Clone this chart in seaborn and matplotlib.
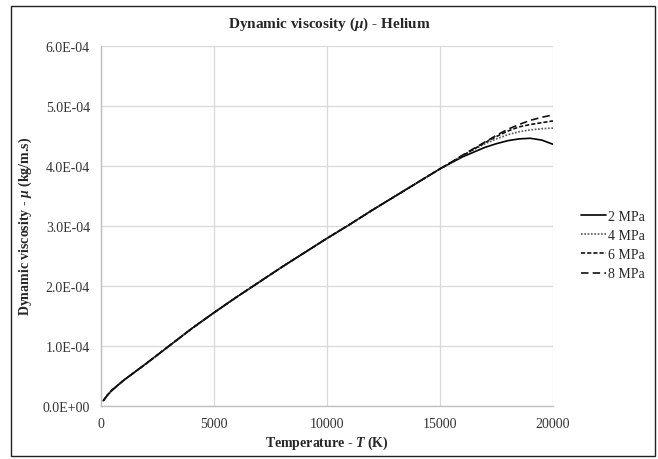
import matplotlib
matplotlib.use("Agg")
import matplotlib.pyplot as plt
import matplotlib.patches as mpatches
import numpy as np
import pandas as pd
import seaborn as sns

# ---- data ----
temps_common = [100, 300, 500, 1000, 1500, 2000, 3000, 4000, 5000, 6000, 7000, 8000,
                9000, 10000, 11000, 12000, 13000, 14000, 15000]
mu_common = [0.08e-4, 0.18e-4, 0.26e-4, 0.42e-4, 0.56e-4, 0.70e-4, 0.99e-4,
             1.28e-4, 1.55e-4, 1.81e-4, 2.06e-4, 2.31e-4, 2.55e-4, 2.79e-4,
             3.02e-4, 3.26e-4, 3.49e-4, 3.72e-4, 3.95e-4]
temps_high = [15500, 16000, 16500, 17000, 17500, 18000, 18500, 19000, 19500, 20000]
mu_2mpa = [4.05e-4, 4.15e-4, 4.23e-4, 4.31e-4, 4.37e-4, 4.42e-4, 4.45e-4, 4.46e-4, 4.43e-4, 4.36e-4]
mu_4mpa = [4.06e-4, 4.17e-4, 4.27e-4, 4.37e-4, 4.45e-4, 4.52e-4, 4.57e-4, 4.60e-4, 4.62e-4, 4.63e-4]
mu_6mpa = [4.06e-4, 4.17e-4, 4.28e-4, 4.39e-4, 4.49e-4, 4.58e-4, 4.65e-4, 4.69e-4, 4.72e-4, 4.75e-4]
mu_8mpa = [4.06e-4, 4.18e-4, 4.29e-4, 4.40e-4, 4.51e-4, 4.61e-4, 4.69e-4, 4.76e-4, 4.81e-4, 4.85e-4]
pressures = ["2 MPa", "4 MPa", "6 MPa", "8 MPa"]
series_high = [mu_2mpa, mu_4mpa, mu_6mpa, mu_8mpa]
x_ticks = [0, 5000, 10000, 15000, 20000]
y_ticks = [0.0, 1e-4, 2e-4, 3e-4, 4e-4, 5e-4, 6e-4]

rows = []
for p, hi in zip(pressures, series_high):
    for t, m in zip(temps_common + temps_high, mu_common + hi):
        rows.append({"T": t, "mu": m, "P": p})
df = pd.DataFrame(rows)

sns.set_theme(style="white")
plt.rcParams["font.family"] = ["Liberation Serif", "DejaVu Serif"]
plt.rcParams["mathtext.fontset"] = "custom"
plt.rcParams["mathtext.rm"] = "Liberation Serif:bold"
plt.rcParams["mathtext.it"] = "Liberation Serif:italic:bold"
plt.rcParams["mathtext.bf"] = "Liberation Serif:bold"

fig = plt.figure(figsize=(6.58, 4.60), dpi=100)
ax = fig.add_axes([0.1535, 0.1163, 0.6869, 0.7815])

palette = {"2 MPa": "#000000", "4 MPa": "#555555", "6 MPa": "#111111", "8 MPa": "#111111"}
dashes = {"2 MPa": "", "4 MPa": (1, 1), "6 MPa": (2.5, 1.2), "8 MPa": (4.5, 2.5)}
sns.lineplot(data=df, x="T", y="mu", hue="P", style="P", palette=palette,
             dashes=dashes, linewidth=1.2, ax=ax, legend=True, sort=False,
             estimator=None)

ax.set_xlim(0, 20000)
ax.set_ylim(0, 6e-4)
ax.set_xticks(x_ticks)
ax.set_yticks(y_ticks)
ax.set_xticklabels([str(v) for v in x_ticks], fontsize=10)
ax.set_yticklabels(["{:.1E}".format(v) for v in y_ticks], fontsize=10)
ax.tick_params(axis="both", length=0, pad=8, colors="#333333")
ax.grid(True, color="#d9d9d9", linewidth=0.9)
for s in ["top", "right"]:
    ax.spines[s].set_visible(False)
for s in ["left", "bottom"]:
    ax.spines[s].set_color("#bfbfbf")
    ax.spines[s].set_linewidth(1.0)

ax.set_xlabel("Temperature - $T$ (K)", fontsize=10, fontweight="bold", labelpad=3)
ax.set_ylabel("Dynamic viscosity - $\\mu$ (kg/m.s)", fontsize=10, fontweight="bold", labelpad=6)
fig.text(0.5, 0.948, "Dynamic viscosity ($\\mu$) - Helium", ha="center", va="center",
         fontsize=11, fontweight="bold")

handles, labels = ax.get_legend_handles_labels()
ax.get_legend().remove()
fig.legend(handles, labels, loc="center left", bbox_to_anchor=(0.875, 0.465),
           frameon=False, fontsize=10, handlelength=1.8, handletextpad=0.1,
           labelspacing=0.45, borderaxespad=0)

fig.patches.append(mpatches.Rectangle((0.0167, 0.0065), 0.979, 0.978,
                                      transform=fig.transFigure, fill=False,
                                      edgecolor="#222222", linewidth=1.0))

fig.savefig("out.png", dpi=100)
